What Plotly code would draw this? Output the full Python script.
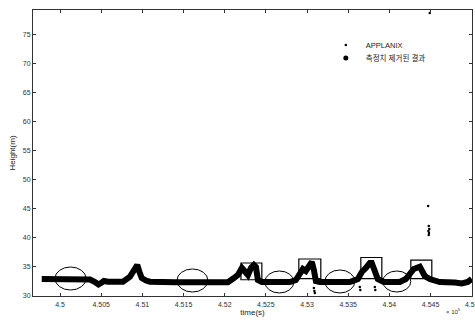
import plotly.graph_objects as go

# ---- data (time in units of 1e5 s, height in m) ----
filtered_time = [4.49778, 4.50364, 4.50425, 4.50467, 4.50498, 4.50534, 4.50583, 4.50765,
                 4.50850, 4.50898, 4.50938, 4.50965, 4.50992, 4.51044, 4.51092, 4.51396,
                 4.52039, 4.52112, 4.52160, 4.52209, 4.52245, 4.52282, 4.52318, 4.52354,
                 4.52379, 4.52403, 4.52451, 4.52791, 4.52864, 4.52913, 4.52949, 4.52985,
                 4.53022, 4.53058, 4.53083, 4.53107, 4.53155, 4.53519, 4.53617, 4.53665,
                 4.53714, 4.53762, 4.53786, 4.53823, 4.53859, 4.53932, 4.54126, 4.54199,
                 4.54248, 4.54296, 4.54369, 4.54430, 4.54490, 4.54612, 4.54794, 4.54879,
                 4.54951, 4.55000]
filtered_height = [32.93, 32.84, 32.41, 31.98, 32.24, 32.59, 32.47, 32.47,
                   33.33, 34.31, 35.34, 34.14, 33.10, 32.67, 32.47, 32.36,
                   32.36, 33.10, 33.62, 34.83, 34.31, 33.62, 34.83, 35.34,
                   35.00, 32.76, 32.41, 32.41, 32.76, 33.79, 34.66, 34.31,
                   35.00, 35.86, 34.48, 32.59, 32.41, 32.41, 32.93, 34.14,
                   34.83, 35.69, 35.69, 34.48, 32.93, 32.41, 32.41, 32.93,
                   33.79, 34.66, 35.05, 33.45, 32.93, 32.41, 32.33, 32.16,
                   32.41, 32.93]

applanix_time = [4.53083, 4.53089, 4.53095, 4.53641, 4.53647, 4.53823, 4.53829,
                 4.54478, 4.54484, 4.54474, 4.54481, 4.54478, 4.54470, 4.54490]
applanix_height = [31.38, 30.86, 30.52, 31.55, 31.03, 31.55, 31.03,
                   42.07, 41.55, 41.21, 40.86, 40.52, 45.52, 78.79]

x_ticks = [4.5, 4.505, 4.51, 4.515, 4.52, 4.525, 4.53, 4.535, 4.54, 4.545, 4.55]
x_tick_labels = ["4.5", "4.505", "4.51", "4.515", "4.52", "4.525", "4.53", "4.535",
                 "4.54", "4.545", "4.55"]
y_ticks = [30, 35, 40, 45, 50, 55, 60, 65, 70, 75]

# highlighted regions: (t0, t1, h0, h1)
ellipses = [(4.49939, 4.50316, 31.03, 35.0), (4.51420, 4.51796, 30.69, 34.66),
            (4.52488, 4.52840, 30.52, 34.31), (4.53216, 4.53580, 30.52, 34.48),
            (4.53920, 4.54260, 30.69, 34.31)]
boxes = [(4.52197, 4.52451, 32.8, 35.69), (4.52900, 4.53167, 33.0, 36.38),
         (4.53653, 4.53908, 33.0, 36.64), (4.54260, 4.54515, 33.0, 36.2)]

FONT = "Liberation Sans, Noto Sans CJK KR, sans-serif"

fig = go.Figure()
fig.add_trace(go.Scatter(x=applanix_time, y=applanix_height, mode="markers",
                         name="APPLANIX", marker=dict(color="black", size=2.5),
                         legend="legend"))
fig.add_trace(go.Scatter(x=filtered_time, y=filtered_height, mode="lines",
                         name="측정치 제거된 결과", showlegend=False, legendgroup="f",
                         line=dict(color="black", width=6)))
fig.add_trace(go.Scatter(x=[None], y=[None], mode="markers", legendgroup="f",
                         name="측정치 제거된 결과", marker=dict(color="black", size=5),
                         legend="legend2"))

shapes = []
for t0, t1, h0, h1 in ellipses:
    shapes.append(dict(type="circle", xref="x", yref="y", x0=t0, x1=t1, y0=h0, y1=h1,
                       line=dict(color="black", width=1)))
for t0, t1, h0, h1 in boxes:
    shapes.append(dict(type="rect", xref="x", yref="y", x0=t0, x1=t1, y0=h0, y1=h1,
                       line=dict(color="black", width=1.2)))

axis_common = dict(showgrid=False, zeroline=False, showline=True, linecolor="#333",
                   linewidth=1, ticks="inside", ticklen=3, tickcolor="#333",
                   mirror="ticks", automargin=False, ticklabeloverflow="allow",
                   tickfont=dict(size=7, color="#333", family=FONT))

legend_common = dict(xanchor="left", yanchor="middle", bgcolor="rgba(0,0,0,0)",
                     font=dict(size=7.5, family=FONT, color="#222"))

fig.update_layout(
    width=475, height=321,
    margin=dict(l=33, r=3, t=10, b=25),
    paper_bgcolor="white", plot_bgcolor="white",
    font=dict(family=FONT, color="#222"),
    shapes=shapes,
    showlegend=True,
    legend=dict(x=0.667, y=0.8776, **legend_common),
    legend2=dict(x=0.667, y=0.832, **legend_common),
    xaxis=dict(range=[4.49672, 4.55003], tickvals=x_ticks, ticktext=x_tick_labels,
               ticklabelstandoff=2,
               title=dict(text="time(s)", font=dict(size=8), standoff=0),
               **axis_common),
    yaxis=dict(range=[30, 79.3], tickvals=y_ticks,
               title=dict(text="Height(m)", font=dict(size=8), standoff=6),
               **axis_common),
    annotations=[dict(text="× 10<sup>5</sup>", xref="paper", yref="paper",
                      x=0.98, y=-0.075, showarrow=False,
                      font=dict(size=6, color="#333"))],
)

fig.write_html("out.html", config={"displayModeBar": False},
               post_script="document.body.style.margin='0px';document.body.style.overflow='hidden';")
